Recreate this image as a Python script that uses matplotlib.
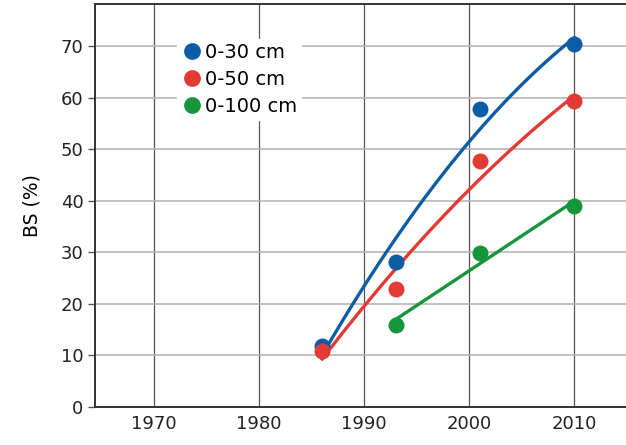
import numpy as np
import matplotlib.pyplot as plt

years_30 = [1986, 1993, 2001, 2010]
bs_30 = [11.8, 28.2, 57.9, 70.5]
years_50 = [1986, 1993, 2001, 2010]
bs_50 = [10.8, 22.9, 47.7, 59.4]
years_100 = [1993, 2001, 2010]
bs_100 = [15.9, 29.9, 39.0]

series = [
    ('0-30 cm', years_30, bs_30, '#0c5ca6', 2),
    ('0-50 cm', years_50, bs_50, '#e23a35', 2),
    ('0-100 cm', years_100, bs_100, '#15963c', 1),
]

fig = plt.figure(figsize=(6.26, 4.45), dpi=100)
ax = fig.add_axes([0.152, 0.0854, 0.848, 0.9056])

for label, x, y, color, deg in series:
    coef = np.polyfit(x, y, deg)
    xs = np.linspace(min(x), max(x), 100)
    ax.plot(xs, np.polyval(coef, xs), color=color, lw=2.4, zorder=3)
    ax.plot(x, y, 'o', color=color, ms=11.5, mec='none', label=label, zorder=4)

ax.set_xlim(1964.4, 2014.9)
ax.set_ylim(0, 78.2)
ax.set_xticks([1970, 1980, 1990, 2000, 2010])
ax.set_yticks(range(0, 80, 10))
ax.xaxis.grid(True, color='#555555', lw=0.9)
ax.yaxis.grid(True, color='#b0b0b0', lw=1.1)
ax.set_axisbelow(True)
ax.tick_params(axis='x', length=0, pad=6, labelsize=13, colors='#222222')
ax.tick_params(axis='y', length=5, width=1, color='#555555', labelsize=13, colors='#222222')
for side in ['left', 'bottom', 'top']:
    ax.spines[side].set_color('#333333')
    ax.spines[side].set_linewidth(1.4)
ax.spines['right'].set_visible(False)
ax.set_ylabel('BS (%)', fontsize=13.5, labelpad=14)

leg = ax.legend(loc='upper left', bbox_to_anchor=(0.154, 0.914), borderaxespad=0,
                frameon=True, framealpha=1, edgecolor='white', fontsize=14,
                handletextpad=0.05, labelspacing=0.42, borderpad=0.2,
                handlelength=1.2, markerscale=1.05)

fig.savefig('out.png', dpi=100)
